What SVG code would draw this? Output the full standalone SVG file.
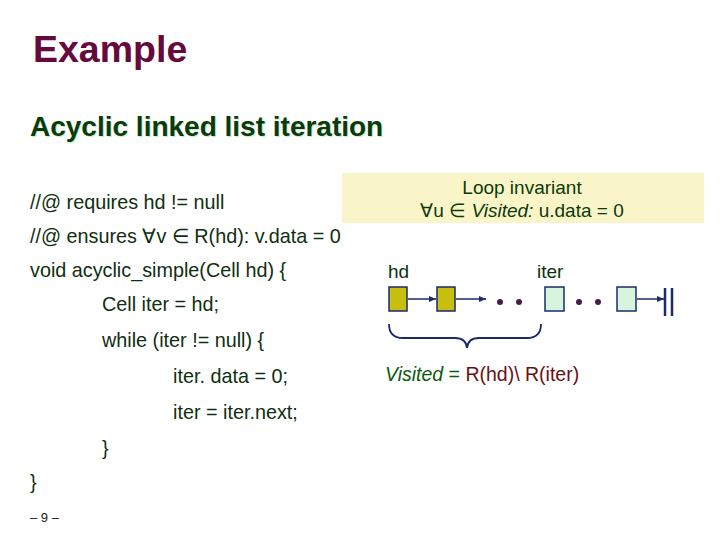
<svg xmlns="http://www.w3.org/2000/svg" width="720" height="540" viewBox="0 0 720 540">
<style>
text{font-family:"Liberation Sans",Arial,sans-serif}
.code{font-size:19.8px;fill:#0f2f0f}
.node{stroke:#1a2a6a;stroke-width:1.5}
.hdn{fill:#c8c010}
.itn{fill:#d6f5dc}
.edge{stroke:#1a2a6a;stroke-width:1.5;fill:none}
.dot{fill:#4a1a4a}
</style>
<defs>
<marker id="ah" markerWidth="8" markerHeight="8" refX="7" refY="4" orient="auto" markerUnits="userSpaceOnUse"><path d="M0,1 L7,4 L0,7z" fill="#1a2a6a"/></marker>
</defs>
<rect width="720" height="540" fill="#fff"/>
<text x="33" y="62" font-size="37.5" font-weight="bold" fill="#660a3c">Example</text>
<text x="31" y="137" font-size="28" font-weight="bold" fill="#c8ecc8">Acyclic linked list iteration</text>
<text x="30" y="136" font-size="28" font-weight="bold" fill="#0b3a0b">Acyclic linked list iteration</text>
<rect x="342" y="173" width="362" height="50" fill="#faf5c8"/>
<text x="522" y="194" font-size="19" fill="#0b3a0b" text-anchor="middle">Loop invariant</text>
<text x="522" y="217" font-size="19" fill="#0b3a0b" text-anchor="middle">∀u ∈ <tspan font-style="italic">Visited:</tspan> u.data = 0</text>
<text x="30" y="209" class="code">//@ requires hd != null</text>
<text x="30" y="243" class="code">//@ ensures ∀v ∈ R(hd): v.data = 0</text>
<text x="30" y="277" class="code">void acyclic_simple(Cell hd) {</text>
<text x="102" y="311" class="code">Cell iter = hd;</text>
<text x="102" y="347" class="code">while (iter != null) {</text>
<text x="173" y="383" class="code">iter. data = 0;</text>
<text x="173" y="419" class="code">iter = iter.next;</text>
<text x="102" y="455" class="code">}</text>
<text x="30" y="489" class="code">}</text>
<text x="30" y="522" font-size="13" fill="#222">– 9 –</text>
<text x="388" y="278" font-size="19" fill="#0f2f0f">hd</text>
<text x="537" y="278" font-size="19" fill="#0f2f0f">iter</text>
<g id="connectors">
<line x1="408" y1="299" x2="436" y2="299" class="edge" marker-end="url(#ah)"/>
<line x1="456" y1="299" x2="486" y2="299" class="edge" marker-end="url(#ah)"/>
<line x1="637" y1="299" x2="664" y2="299" class="edge" marker-end="url(#ah)"/>
<line x1="665" y1="288" x2="665" y2="316" stroke="#1a2a6a" stroke-width="2.5"/>
<line x1="672" y1="288" x2="672" y2="316" stroke="#1a2a6a" stroke-width="2.5"/>
</g>
<g id="n1"><rect x="389" y="287" width="18" height="24" class="node hdn"/></g>
<g id="n2"><rect x="437" y="287" width="18" height="24" class="node hdn"/></g>
<g id="n3"><rect x="545" y="287" width="19" height="24" class="node itn"/></g>
<g id="n4"><rect x="617" y="287" width="19" height="24" class="node itn"/></g>
<circle cx="500" cy="302" r="3" class="dot"/><circle cx="519" cy="302" r="3" class="dot"/>
<circle cx="579" cy="302" r="3" class="dot"/><circle cx="598" cy="302" r="3" class="dot"/>
<path d="M389,324 Q389,338 403,338 L455,338 Q466,338 467,348 Q468,338 479,338 L527,338 Q541,338 541,324" fill="none" stroke="#1a2a6a" stroke-width="1.8"/>
<text x="385" y="381" font-size="19.5"><tspan font-style="italic" fill="#0b5a0b">Visited</tspan><tspan fill="#0b5a0b"> = </tspan><tspan fill="#6b1010"> R(hd)\ R(iter)</tspan></text>
</svg>
